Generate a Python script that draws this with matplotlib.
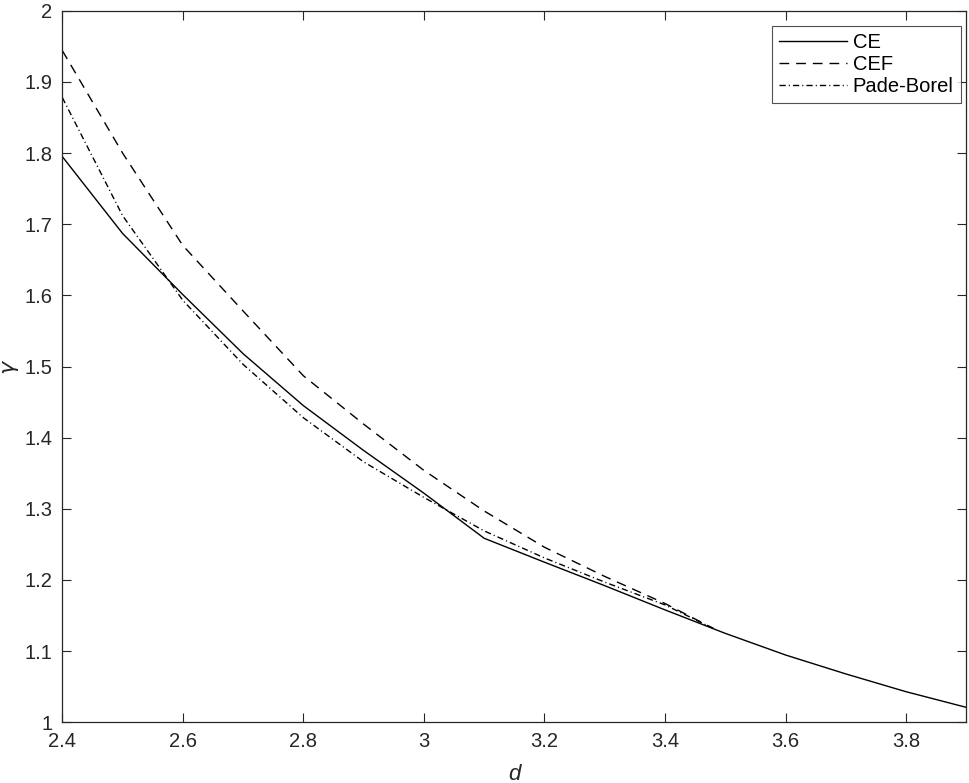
import matplotlib
matplotlib.use("Agg")
import matplotlib.pyplot as plt

# Data
d_ce = [2.4, 2.5, 2.6, 2.7, 2.8, 2.9, 3.0, 3.1, 3.2, 3.3, 3.4, 3.5, 3.6, 3.7, 3.8, 3.9]
gamma_ce = [1.795, 1.687, 1.601, 1.518, 1.445, 1.382, 1.322, 1.2586, 1.225, 1.192, 1.158,
            1.125, 1.0946, 1.068, 1.043, 1.021]

d_cef = [2.4, 2.5, 2.6, 2.7, 2.8, 2.9, 3.0, 3.1, 3.2, 3.3, 3.4, 3.48]
gamma_cef = [1.944, 1.800, 1.670, 1.578, 1.487, 1.419, 1.354, 1.297, 1.246, 1.205, 1.167, 1.132]

d_pb = [2.4, 2.5, 2.6, 2.7, 2.8, 2.9, 3.0, 3.1, 3.2, 3.3, 3.4, 3.48]
gamma_pb = [1.878, 1.712, 1.593, 1.503, 1.428, 1.366, 1.316, 1.269, 1.231, 1.197, 1.165, 1.132]

labels = ["CE", "CEF", "Pade-Borel"]
xticks = [2.4, 2.6, 2.8, 3.0, 3.2, 3.4, 3.6, 3.8]
xticklabels = ["2.4", "2.6", "2.8", "3", "3.2", "3.4", "3.6", "3.8"]
yticks = [1.0, 1.1, 1.2, 1.3, 1.4, 1.5, 1.6, 1.7, 1.8, 1.9, 2.0]
yticklabels = ["1", "1.1", "1.2", "1.3", "1.4", "1.5", "1.6", "1.7", "1.8", "1.9", "2"]

plt.rcParams['font.family'] = ['Liberation Sans', 'DejaVu Sans']
axcol = '#262626'

fig = plt.figure(figsize=(9.69, 7.83), dpi=100)
ax = fig.add_axes([62.3 / 969, 1 - 722.3 / 783, 904 / 969, 711.6 / 783])

ax.plot(d_ce, gamma_ce, color='black', lw=1.0, linestyle='-', label=labels[0])
ax.plot(d_cef, gamma_cef, color='black', lw=1.0, linestyle=(0, (7, 5)), label=labels[1])
ax.plot(d_pb, gamma_pb, color='black', lw=1.0, linestyle=(0, (4.5, 2.2, 0.8, 2.2)), label=labels[2])

ax.set_xlim(2.4, 3.9)
ax.set_ylim(1.0, 2.0)
ax.set_xticks(xticks)
ax.set_xticklabels(xticklabels)
ax.set_yticks(yticks)
ax.set_yticklabels(yticklabels)

ax.tick_params(direction='in', length=6.7, width=0.8, colors=axcol, labelsize=14.5,
               top=True, right=True)
ax.tick_params(axis='x', pad=7)
ax.tick_params(axis='y', pad=7)
for s in ax.spines.values():
    s.set_color(axcol)
    s.set_linewidth(0.9)

ax.set_xlabel('d', fontsize=16, color=axcol, labelpad=9, fontstyle='italic')
ax.set_ylabel(r'$\gamma$', fontsize=16, color=axcol, va='center')
ax.yaxis.set_label_coords(-52 / 904, 0.5)

leg = ax.legend(loc='upper right', bbox_to_anchor=(0.9938, 0.9789), borderaxespad=0,
                fontsize=14.5, frameon=True, fancybox=False, edgecolor=axcol,
                handlelength=3.35, handletextpad=0.3, labelspacing=0.15, borderpad=0.35)
leg.get_frame().set_linewidth(0.8)
for t in leg.get_texts():
    t.set_color('black')

fig.savefig('out.png', dpi=100)
